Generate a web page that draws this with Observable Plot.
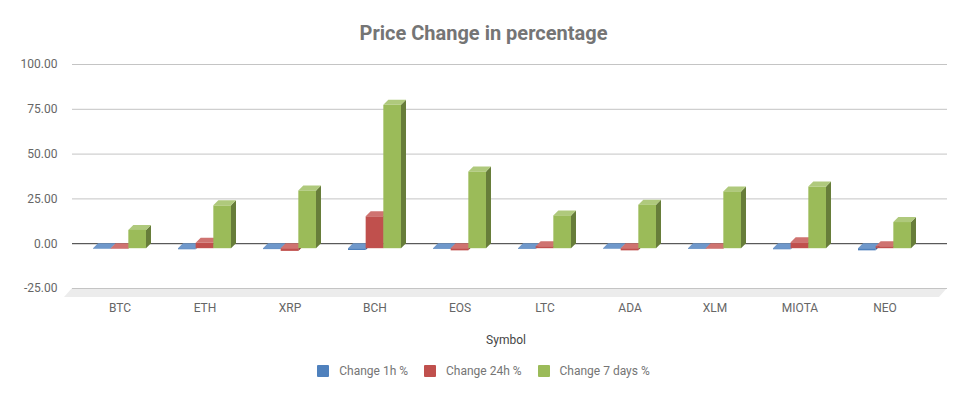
<!DOCTYPE html>
<html>
<head>
<meta charset="utf-8">
<script src="https://cdn.jsdelivr.net/npm/d3@7"></script>
<script src="https://cdn.jsdelivr.net/npm/@observablehq/plot@0.6"></script>
<style>
  body { margin: 0; background: #fff; font-family: Roboto, sans-serif; }
  #wrap { width: 967px; height: 399px; overflow: hidden; }
  #title { height: 50px; box-sizing: border-box; padding-top: 21px; line-height: 24px; font-size: 20px; font-weight: bold; color: #757575; text-align: center; }
  #chart svg { display: block; }
  #legend { display: flex; justify-content: center; align-items: center; margin-top: 6px; height: 18px; font-size: 12px; color: #757575; }
  .item { display: flex; align-items: center; margin: 0 8px; }
  .sw { width: 12px; height: 12px; margin-right: 10px; border-radius: 1px; }
</style>
</head>
<body>
<div id="wrap">
  <div id="title">Price Change in percentage</div>
  <div id="chart"></div>
  <div id="legend"></div>
</div>
<script>
const symbols = ["BTC", "ETH", "XRP", "BCH", "EOS", "LTC", "ADA", "XLM", "MIOTA", "NEO"];
const seriesNames = ["Change 1h %", "Change 24h %", "Change 7 days %"];
const change1h  = [-0.3, -0.6, -0.5, -1.0, -0.4, -0.4, -0.3, -0.4, -0.6, -1.2];
const change24h = [-0.3, 3.0, -1.5, 17.8, -1.2, 1.1, -1.2, -0.3, 3.3, 1.1];
const change7d  = [10.2, 23.9, 32.2, 80.0, 42.8, 18.3, 24.3, 31.7, 34.4, 14.6];
const yTicks = [-25, 0, 25, 50, 75, 100];
const xLabel = "Symbol";
const frontColors = ["#4f81bd", "#c0504d", "#9bbb59"];
const topColors   = ["#6f98cb", "#cf7370", "#afc97c"];
const sideColors  = ["#3a5f8c", "#8c3836", "#677d3a"];

const seriesValues = [change1h, change24h, change7d];
const data = symbols.flatMap((s, i) =>
  seriesNames.map((n, j) => ({symbol: s, series: n, j, value: seriesValues[j][i]})));

const DEPTH = 5;

function floorMark(index, scales, values, dim) {
  const y = scales.y;
  const l = dim.marginLeft, r = dim.width - dim.marginRight;
  const yb = y(d3.min(yTicks));
  const g = d3.create("svg:g");
  g.append("path")
    .attr("d", `M${l},${yb}L${r},${yb}L${r - 8},${yb + 9}L${l - 8},${yb + 9}Z`)
    .attr("fill", "#ececec");
  return g.node();
}

function bars3d(index, scales, values, dim) {
  const {x, y} = scales;
  const g = d3.create("svg:g");
  const bw = x.bandwidth() / 3;
  for (const d of data) {
    const x0 = x(d.symbol) + d.j * bw, x1 = x0 + bw;
    const yz = y(0) + DEPTH, yv = y(d.value) + DEPTH;
    const top = Math.min(yz, yv), bot = Math.max(yz, yv);
    g.append("path")
      .attr("d", `M${x1},${top}L${x1 + DEPTH},${top - DEPTH}L${x1 + DEPTH},${bot - DEPTH}L${x1},${bot}Z`)
      .attr("fill", sideColors[d.j]);
    g.append("path")
      .attr("d", `M${x0},${top}L${x1},${top}L${x1 + DEPTH},${top - DEPTH}L${x0 + DEPTH},${top - DEPTH}Z`)
      .attr("fill", topColors[d.j]);
    if (bot - top > 0) {
      g.append("rect")
        .attr("x", x0).attr("y", top)
        .attr("width", bw).attr("height", bot - top)
        .attr("fill", frontColors[d.j]);
    }
  }
  return g.node();
}

const chart = Plot.plot({
  width: 967,
  height: 306,
  marginTop: 14,
  marginBottom: 68,
  marginLeft: 72,
  marginRight: 20,
  style: {fontFamily: "Roboto, sans-serif", fontSize: "12px", background: "white", overflow: "visible"},
  x: {type: "band", domain: symbols, paddingInner: 0.378, paddingOuter: 0.324, align: 0.371, axis: null},
  y: {domain: [d3.min(yTicks), d3.max(yTicks)], axis: null},
  marks: [
    floorMark,
    Plot.ruleY(yTicks.filter(v => v !== 0), {stroke: "#c4c4c4", strokeWidth: 1}),
    Plot.ruleY([0], {stroke: "#333333", strokeWidth: 1}),
    bars3d,
    Plot.text(yTicks, {y: d => d, frameAnchor: "left", textAnchor: "end", dx: -15, text: d => d.toFixed(2), fill: "#666", fontSize: 12}),
    Plot.text(symbols, {x: d => d, frameAnchor: "bottom", dy: 23, text: d => d, fill: "#666", fontSize: 12}),
    Plot.text([xLabel], {frameAnchor: "bottom", dy: 55, dx: -4, text: d => d, fill: "#444", fontSize: 12})
  ]
});
document.getElementById("chart").appendChild(chart);

const legend = d3.select("#legend");
seriesNames.forEach((n, j) => {
  const item = legend.append("div").attr("class", "item");
  item.append("div").attr("class", "sw").style("background", frontColors[j]);
  item.append("span").text(n);
});
</script>
</body>
</html>
